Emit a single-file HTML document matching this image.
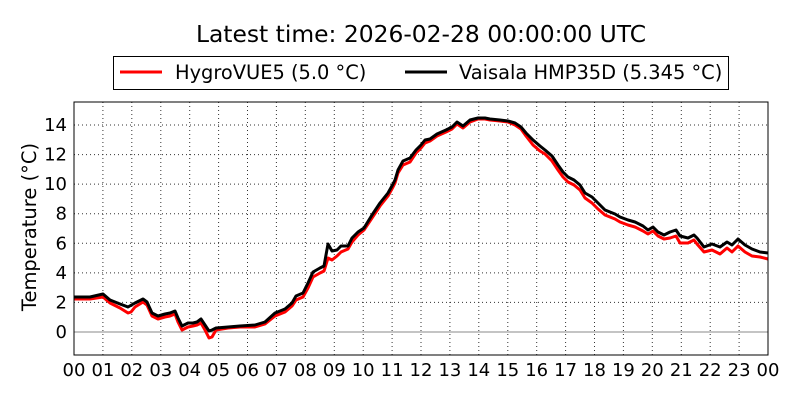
<!DOCTYPE html>
<html><head><meta charset="utf-8"><style>
body{margin:0;background:#fff;}
svg{display:block;font-family:"DejaVu Sans","Liberation Sans",sans-serif;}
</style></head><body>
<svg width="800" height="400" viewBox="0 0 800 400" xmlns="http://www.w3.org/2000/svg">
<rect width="800" height="400" fill="#fff"/>
<text x="421" y="42" font-size="23.4" text-anchor="middle">Latest time: 2026-02-28 00:00:00 UTC</text>
<rect x="113.5" y="56.5" width="615" height="33" fill="#fff" stroke="#000" stroke-width="1"/>
<line x1="120" y1="72" x2="162" y2="72" stroke="#f00" stroke-width="3"/>
<text x="175" y="79" font-size="19.4">HygroVUE5 (5.0 °C)</text>
<line x1="405" y1="72" x2="447" y2="72" stroke="#000" stroke-width="3"/>
<text x="459" y="79" font-size="19.4">Vaisala HMP35D (5.345 °C)</text>
<g stroke="#000" stroke-width="1" stroke-dasharray="1,3" opacity="0.8">
<line x1="102.9" y1="102" x2="102.9" y2="355"/><line x1="131.8" y1="102" x2="131.8" y2="355"/><line x1="160.8" y1="102" x2="160.8" y2="355"/><line x1="189.7" y1="102" x2="189.7" y2="355"/><line x1="218.6" y1="102" x2="218.6" y2="355"/><line x1="247.5" y1="102" x2="247.5" y2="355"/><line x1="276.4" y1="102" x2="276.4" y2="355"/><line x1="305.3" y1="102" x2="305.3" y2="355"/><line x1="334.3" y1="102" x2="334.3" y2="355"/><line x1="363.2" y1="102" x2="363.2" y2="355"/><line x1="392.1" y1="102" x2="392.1" y2="355"/><line x1="421" y1="102" x2="421" y2="355"/><line x1="449.9" y1="102" x2="449.9" y2="355"/><line x1="478.8" y1="102" x2="478.8" y2="355"/><line x1="507.8" y1="102" x2="507.8" y2="355"/><line x1="536.7" y1="102" x2="536.7" y2="355"/><line x1="565.6" y1="102" x2="565.6" y2="355"/><line x1="594.5" y1="102" x2="594.5" y2="355"/><line x1="623.4" y1="102" x2="623.4" y2="355"/><line x1="652.3" y1="102" x2="652.3" y2="355"/><line x1="681.3" y1="102" x2="681.3" y2="355"/><line x1="710.2" y1="102" x2="710.2" y2="355"/><line x1="739.1" y1="102" x2="739.1" y2="355"/>
<line x1="74" y1="125" x2="768" y2="125"/><line x1="74" y1="154.6" x2="768" y2="154.6"/><line x1="74" y1="184.1" x2="768" y2="184.1"/><line x1="74" y1="213.7" x2="768" y2="213.7"/><line x1="74" y1="243.3" x2="768" y2="243.3"/><line x1="74" y1="272.9" x2="768" y2="272.9"/><line x1="74" y1="302.4" x2="768" y2="302.4"/>
</g>
<line x1="74" y1="332" x2="768" y2="332" stroke="#888" stroke-width="1"/>
<polyline fill="none" stroke="#f00" stroke-width="3" stroke-linejoin="round" points="74,299 90,299 103,297 110,303 120,308 128,313 131,312 135,307 143,302 147,305 152,316 158,319 165,317 170,316 175,314 178,322 182,330 188,327 193,326 197,325 201,323 205,330 209,338 212,337 216,330 228,328 240,327 255,327 265,324 275,316 285,312 292,306 296,300 303,297 308,288 313,277 320,273 324,271 328,258 332,260 337,256 341,252 348,249 352,242 358,235 364,230 372,218 380,206 388,196 393,187 395,183 398,173 403,165 410,162 416,153 421,148 425,143 430,141 437,136 446,132 452,129 457,124 463,128 470,122 478,119 485,119 490,120 500,121 508,122 515,125 521,129 526,136 533,145 540,151 545,154 552,161 558,170 563,177 568,182 574,185 580,190 585,198 592,203 598,209 605,215 610,217 615,219 620,222 628,225 635,227 643,231 648,234 653,231 658,236 664,239 670,238 676,236 680,243 688,243 694,240 697,244 704,252 712,250 720,254 727,248 732,252 738,246 745,252 752,256 760,257 768,259"/>
<polyline fill="none" stroke="#000" stroke-width="3" stroke-linejoin="round" points="74,297 90,297 103,294 110,300 120,304 128,307 135,303 143,299 147,302 152,313 158,316 165,314 170,313 175,311 178,318 182,326 188,323 193,323 197,322 201,319 205,325 209,331 212,330 216,328 228,327 240,326 255,325 265,322 275,313 285,309 292,303 296,296 303,293 308,283 313,272 320,268 324,266 328,244 332,251 337,250 341,246 348,246 352,238 358,232 364,228 372,215 380,203 388,193 393,184 395,180 398,170 403,161 410,158 416,150 421,145 425,140 430,139 437,134 446,130 452,127 457,122 463,126 470,120 478,118 485,118 490,119 500,120 508,121 515,123 521,127 526,133 533,140 540,146 545,150 552,156 558,165 563,172 568,177 574,180 580,185 585,193 592,197 598,203 605,210 610,212 615,214 620,217 628,220 635,222 643,226 648,230 653,227 658,232 664,235 670,232 676,230 680,236 688,238 694,235 697,238 704,247 712,244 720,247 727,242 732,245 738,239 745,245 752,249 760,252 768,253"/>
<rect x="74" y="102" width="694" height="253" fill="none" stroke="#000" stroke-width="1"/>
<g font-size="18" text-anchor="end">
<text x="67" y="131">14</text><text x="67" y="160.6">12</text><text x="67" y="190.1">10</text><text x="67" y="219.7">8</text><text x="67" y="249.3">6</text><text x="67" y="278.9">4</text><text x="67" y="308.4">2</text><text x="67" y="338">0</text>
</g>
<g font-size="18" text-anchor="middle">
<text x="74" y="376">00</text><text x="102.9" y="376">01</text><text x="131.8" y="376">02</text><text x="160.8" y="376">03</text><text x="189.7" y="376">04</text><text x="218.6" y="376">05</text><text x="247.5" y="376">06</text><text x="276.4" y="376">07</text><text x="305.3" y="376">08</text><text x="334.3" y="376">09</text><text x="363.2" y="376">10</text><text x="392.1" y="376">11</text><text x="421" y="376">12</text><text x="449.9" y="376">13</text><text x="478.8" y="376">14</text><text x="507.8" y="376">15</text><text x="536.7" y="376">16</text><text x="565.6" y="376">17</text><text x="594.5" y="376">18</text><text x="623.4" y="376">19</text><text x="652.3" y="376">20</text><text x="681.3" y="376">21</text><text x="710.2" y="376">22</text><text x="739.1" y="376">23</text><text x="768" y="376">00</text>
</g>
<text transform="translate(36,227) rotate(-90)" font-size="19.5" text-anchor="middle">Temperature (°C)</text>
</svg>
</body></html>
